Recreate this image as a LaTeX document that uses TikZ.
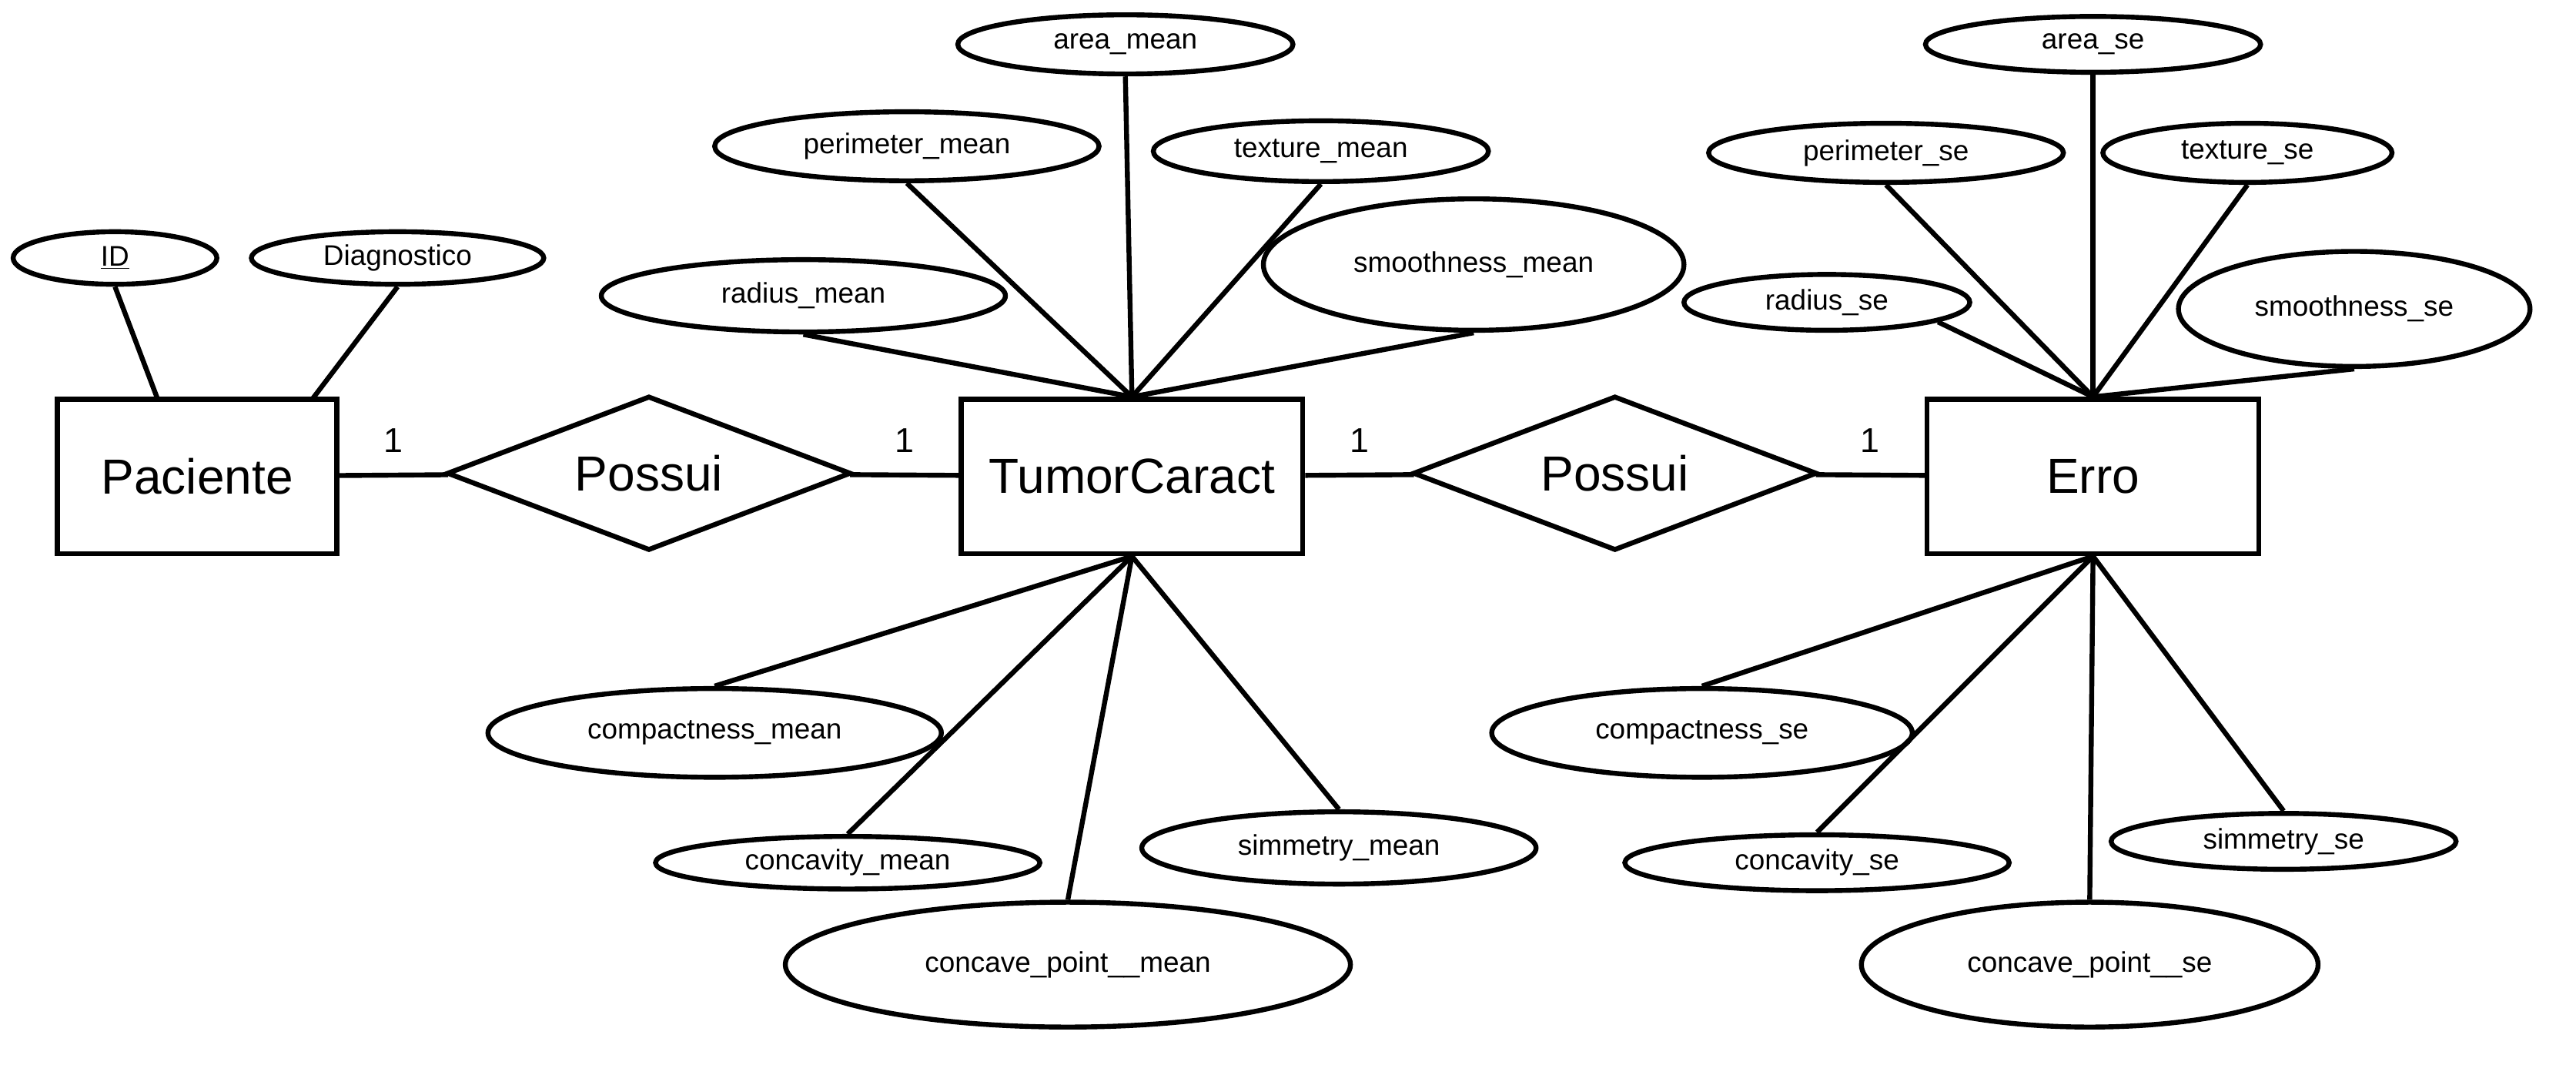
\documentclass[tikz,border=0pt]{standalone}
\usepackage{fontspec}
\setmainfont{Liberation Sans}
\usetikzlibrary{shapes.geometric}

\begin{document}
\begin{tikzpicture}[x=1pt,y=-1pt,line width=3pt,
  entity/.style={draw,rectangle,inner sep=0,font=\fontsize{30}{34}\selectfont},
  rel/.style={draw,diamond,aspect=2.62,inner sep=0,minimum width=246,minimum height=94,font=\fontsize{30}{34}\selectfont},
  attr/.style={draw,ellipse,inner sep=0,font=\fontsize{17.3}{20}\selectfont},
  card/.style={above=9pt,font=\fontsize{21}{24}\selectfont}]
\useasboundingbox (0,0) rectangle (1568,648);
% entities and relationships
\node[entity,minimum width=170,minimum height=94] (pac) at (120,290) {Paciente};
\node[entity,minimum width=208,minimum height=94] (tum) at (689,290) {TumorCaract};
\node[entity,minimum width=202,minimum height=94] (erro) at (1274,290) {Erro};
\node[rel] (pos1) at (395,288) {Possui};
\node[rel] (pos2) at (983,288) {Possui};
\draw (pac) -- node[card] {1} (pos1) -- node[card] {1} (tum);
\draw (tum) -- node[card] {1} (pos2) -- node[card] {1} (erro);
% Paciente
\node[attr,minimum width=124,minimum height=32] (id) at (70,157) {\underline{ID}};
\node[attr,minimum width=178,minimum height=32] (diag) at (242,157) {Diagnostico};
\draw (id.south) -- (96,243);
\draw (diag.south) -- (190,243);
% TumorCaract, top
\node[attr,minimum width=204,minimum height=36] (aream) at (685,27) {area\_mean};
\node[attr,minimum width=234,minimum height=42] (perim) at (552,89) {perimeter\_mean};
\node[attr,minimum width=204,minimum height=37] (textm) at (804,92) {texture\_mean};
\node[attr,minimum width=246,minimum height=44] (radm) at (489,180) {radius\_mean};
\node[attr,minimum width=256,minimum height=80] (smoothm) at (897,161) {smoothness\_mean};
\foreach \a in {aream,perim,textm,radm,smoothm}
  \draw (\a.south) -- (tum.north);
% TumorCaract, bottom
\node[attr,minimum width=276,minimum height=54] (compm) at (435,446) {compactness\_mean};
\node[attr,minimum width=234,minimum height=32] (concm) at (516,525) {concavity\_mean};
\node[attr,minimum width=344,minimum height=76] (cptm) at (650,587) {concave\_point\_\_mean};
\node[attr,minimum width=240,minimum height=44] (simm) at (815,516) {simmetry\_mean};
\foreach \a in {compm,concm,cptm,simm}
  \draw (tum.south) -- (\a.north);
% Erro, top
\node[attr,minimum width=204,minimum height=34] (arease) at (1274,27) {area\_se};
\node[attr,minimum width=216,minimum height=36] (perise) at (1148,93) {perimeter\_se};
\node[attr,minimum width=176,minimum height=36] (textse) at (1368,93) {texture\_se};
\node[attr,minimum width=174,minimum height=34] (radse) at (1112,184) {radius\_se};
\node[attr,minimum width=214,minimum height=70] (smoothse) at (1433,188) {smoothness\_se};
\foreach \a in {arease,perise,textse,smoothse}
  \draw (\a.south) -- (erro.north);
\draw (radse.-10) -- (erro.north);
% Erro, bottom
\node[attr,minimum width=256,minimum height=54] (compse) at (1036,446) {compactness\_se};
\node[attr,minimum width=234,minimum height=34] (concse) at (1106,525) {concavity\_se};
\node[attr,minimum width=278,minimum height=76] (cptse) at (1272,587) {concave\_point\_\_se};
\node[attr,minimum width=210,minimum height=34] (simse) at (1390,512) {simmetry\_se};
\foreach \a in {compse,concse,cptse,simse}
  \draw (erro.south) -- (\a.north);
\end{tikzpicture}
\end{document}
